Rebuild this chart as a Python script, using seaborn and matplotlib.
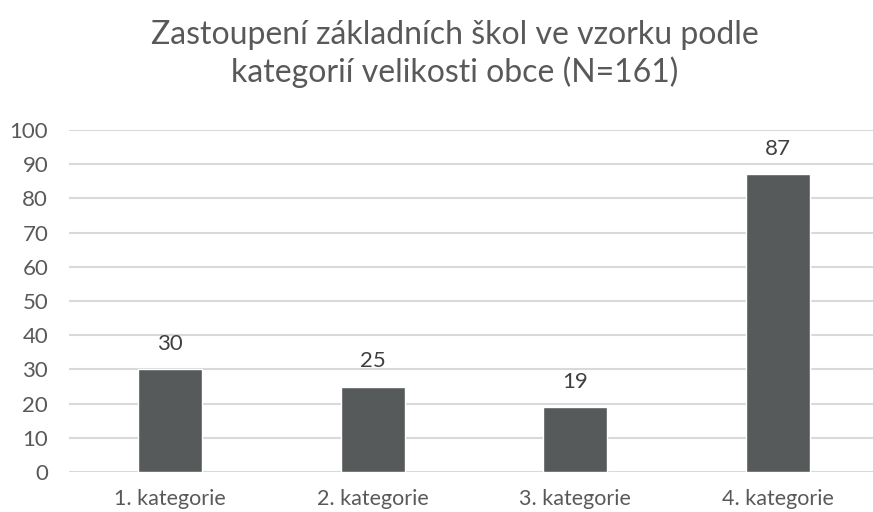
import seaborn as sns
import matplotlib.pyplot as plt
import pandas as pd

# data
categories = ['1. kategorie', '2. kategorie', '3. kategorie', '4. kategorie']
counts = [30, 25, 19, 87]
yticks = [0, 10, 20, 30, 40, 50, 60, 70, 80, 90, 100]

df = pd.DataFrame({'kategorie': categories, 'pocet': counts})

sns.set_theme(style='white')
plt.rcParams['font.family'] = ['Lato', 'DejaVu Sans']
text_col = '#595959'

fig = plt.figure(figsize=(8.73, 5.12), dpi=100)
ax = fig.add_axes([69 / 873, 1 - 472 / 512, 810 / 873, 342 / 512])

sns.barplot(x='kategorie', y='pocet', data=df, color='#575a5a', width=0.316,
            saturation=1, ax=ax, zorder=3)

ax.set_ylim(0, 100)
ax.set_xlim(-0.5, 3.5)
ax.set_yticks(yticks)
ax.yaxis.grid(True, color='#d9d9d9', linewidth=1.5, zorder=0)
ax.set_axisbelow(True)
for s in ax.spines.values():
    s.set_visible(False)
ax.set_xlabel('')
ax.set_ylabel('')
ax.tick_params(axis='y', labelsize=16, colors=text_col, pad=15, length=0)
ax.tick_params(axis='x', labelsize=15.5, colors=text_col, pad=12, length=0)

for i, v in enumerate(counts):
    ax.text(i, v + 4.5, str(v), ha='center', va='bottom', fontsize=16, color='#404040')

fig.text(0.521, 0.895, 'Zastoupení základních škol ve vzorku podle\nkategorií velikosti obce (N=161)',
         ha='center', va='center', fontsize=23, color=text_col, linespacing=1.25)

fig.savefig('out.png', dpi=100)
